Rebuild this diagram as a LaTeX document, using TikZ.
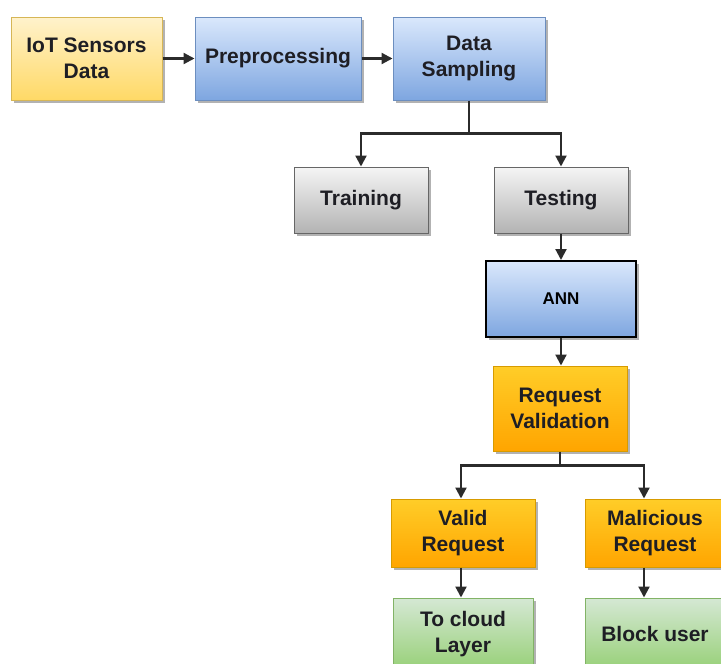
\documentclass[tikz,border=0pt]{standalone}
\usepackage{fontspec}
\setmainfont{Liberation Sans}
\usetikzlibrary{arrows.meta,shadows,calc}
\definecolor{yTop}{HTML}{FFF2CC}
\definecolor{yBot}{HTML}{FFD966}
\definecolor{yLine}{HTML}{D6B656}
\definecolor{bTop}{HTML}{DAE8FC}
\definecolor{bBot}{HTML}{7EA6E0}
\definecolor{bLine}{HTML}{6C8EBF}
\definecolor{gTop}{HTML}{F5F5F5}
\definecolor{gBot}{HTML}{B3B3B3}
\definecolor{gLine}{HTML}{666666}
\definecolor{oTop}{HTML}{FFCD28}
\definecolor{oBot}{HTML}{FFA500}
\definecolor{oLine}{HTML}{D79B00}
\definecolor{grTop}{HTML}{D5E8D4}
\definecolor{grBot}{HTML}{97D077}
\definecolor{grLine}{HTML}{82B366}
\definecolor{txt}{HTML}{1E1E24}
\definecolor{conn}{HTML}{2B2B2B}
\begin{document}
\begin{tikzpicture}[x=1pt,y=-1pt,
  box/.style={draw, line width=1pt, align=center, inner sep=0pt, text=txt,
    font=\bfseries\fontsize{21}{26}\selectfont,
    drop shadow={shadow xshift=2.5pt, shadow yshift=-2.5pt, opacity=0.3, fill=black}},
  ybox/.style={box, draw=yLine, top color=yTop, bottom color=yBot},
  bbox/.style={box, draw=bLine, top color=bTop, bottom color=bBot},
  gbox/.style={box, draw=gLine, top color=gTop, bottom color=gBot},
  obox/.style={box, draw=oLine, top color=oTop, bottom color=oBot},
  grbox/.style={box, draw=grLine, top color=grTop, bottom color=grBot},
  conn/.style={draw=conn, line width=2.2pt, -{Triangle[length=11pt,width=11pt]}},
  plain/.style={draw=conn, line width=2.2pt}]
\useasboundingbox (0,0) rectangle (721,664);
\fill[white] (0,0) rectangle (721,664);

\node[ybox, minimum width=151pt, minimum height=83pt] (iot) at (86.5,58.5) {IoT Sensors\\Data};
\node[bbox, minimum width=166pt, minimum height=83pt] (pre) at (278,58.5) {Preprocessing};
\node[bbox, minimum width=152pt, minimum height=83pt] (ds) at (469,58.5) {Data\\Sampling};
\node[gbox, minimum width=134pt, minimum height=66pt] (tr) at (361,200) {Training};
\node[gbox, minimum width=134pt, minimum height=66pt] (te) at (561,200) {Testing};
\node[bbox, draw=black, line width=2pt, minimum width=150pt, minimum height=76pt,
  font=\bfseries\fontsize{17}{20}\selectfont, text=black] (ann) at (561,299) {ANN};
\node[obox, minimum width=134pt, minimum height=85pt] (rv) at (560,408.5) {Request\\Validation};
\node[obox, minimum width=144pt, minimum height=68pt] (va) at (463,533) {Valid\\Request};
\node[obox, minimum width=140pt, minimum height=68pt] (ma) at (655,533) {Malicious\\Request};
\node[grbox, minimum width=140pt, minimum height=72pt] (tc) at (463,634) {To cloud\\Layer};
\node[grbox, minimum width=140pt, minimum height=72pt] (bu) at (655,634) {Block user};

\draw[conn] (iot) -- (pre);
\draw[conn] (pre) -- (ds);
\coordinate (split1) at ($(ds.south)+(0,33)$);
\draw[plain] (ds.south) -- (split1);
\draw[conn] (split1) -| (tr.north);
\draw[conn] (split1) -| (te.north);
\draw[conn] (te.south) -- (te.south |- ann.north);
\draw[conn] (ann.south) -- (ann.south |- rv.north);
\coordinate (split2) at ($(rv.south)+(0,14)$);
\draw[plain] (rv.south) -- (split2);
\draw[conn] (split2) -| ([xshift=-2pt]va.north);
\draw[conn] (split2) -| ([xshift=-11pt]ma.north);
\draw[conn] ([xshift=-2pt]va.south) -- ([xshift=-2pt]tc.north);
\draw[conn] ([xshift=-11pt]ma.south) -- ([xshift=-11pt]bu.north);
\end{tikzpicture}
\end{document}
